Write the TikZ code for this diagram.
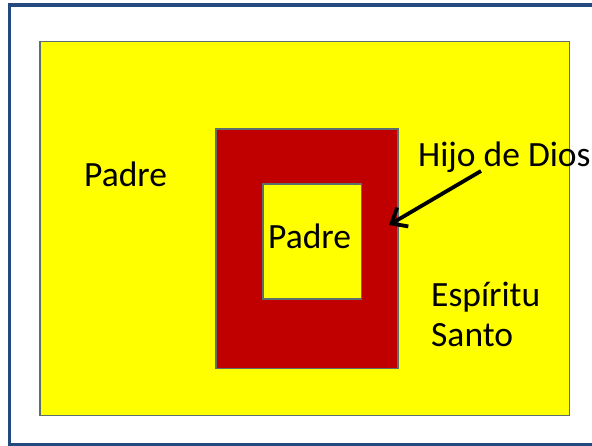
\documentclass[tikz,border=0pt]{standalone}
\usepackage{fontspec}
\setmainfont{Carlito}
\usetikzlibrary{arrows.meta}
\definecolor{frameblue}{HTML}{23497E}
\definecolor{ylw}{HTML}{FFFF00}
\definecolor{rd}{HTML}{C00000}
\definecolor{edge}{HTML}{5E6E6C}
\tikzset{
  box/.style={draw=edge, line width=1.2pt},
  lbl/.style={anchor=base west, inner sep=0pt, font=\fontsize{35.5}{42}\selectfont, text=black},
}
\begin{document}
\begin{tikzpicture}[x=1pt,y=-1pt]
\useasboundingbox (0,0) rectangle (592,446);
\fill[white] (0,0) rectangle (592,446);
% frame
\draw[frameblue, line width=3.2pt] (600,5) -- (9.5,5) -- (9.5,444.5) -- (600,444.5);
% shapes
\draw[box, fill=ylw] (40,41.5) rectangle (569.5,415.5);
\draw[box, fill=rd] (216,129) rectangle (398,368.5);
\draw[box, fill=ylw] (263,184) rectangle (361.5,299);
% labels
\node[lbl] (padre1) at (84,187) {Padre};
\node[lbl] (padre2) at (268,249) {Padre};
\node[lbl] (hijo) at (418,167) {Hijo de Dios};
\node[lbl] (esp) at (431,307) {Espíritu};
\node[lbl] (santo) at (431,347) {Santo};
\coordinate (astart) at (481,171);
\coordinate (aend) at (389,225);
\draw[line width=3.8pt, -{Straight Barb[length=13pt,width=22pt,line width=3.8pt]}] (astart) -- (aend);
\end{tikzpicture}
\end{document}
